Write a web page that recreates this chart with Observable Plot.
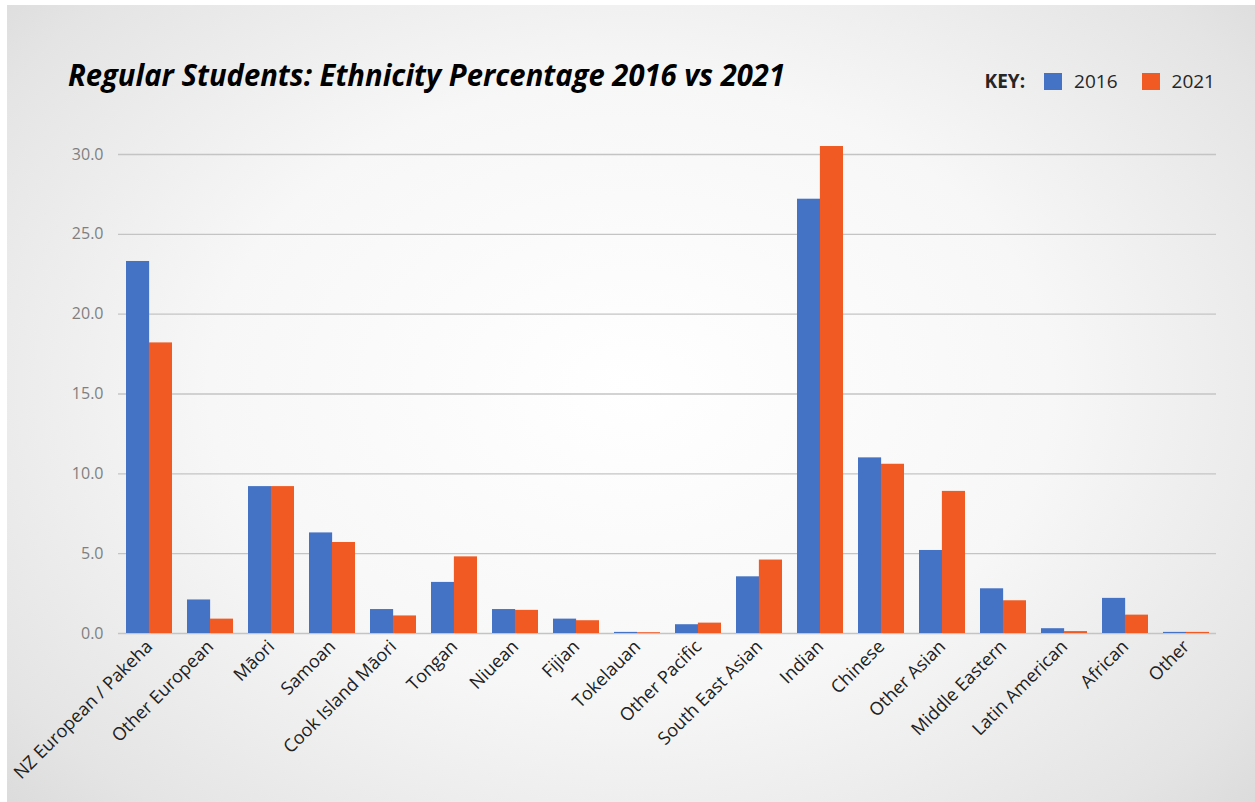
<!DOCTYPE html>
<html>
<head>
<meta charset="utf-8">
<script src="https://cdn.jsdelivr.net/npm/d3@7"></script>
<script src="https://cdn.jsdelivr.net/npm/@observablehq/plot@0.6"></script>
<style>
  html, body { margin: 0; padding: 0; background: #ffffff; width: 1255px; height: 802px; overflow: hidden; }
  #bg { position: absolute; left: 7px; top: 5px; width: 1248px; height: 797px;
        background: radial-gradient(ellipse 75% 85% at 50% 48%, #ffffff 0%, #f7f7f7 45%, #e4e4e4 80%, #d4d4d4 100%); }
  #page { position: absolute; left: 0; top: 0; width: 1255px; height: 802px; }
  #header { position: relative; width: 1255px; height: 130px; }
  #title { position: absolute; left: 0; top: 0; }
  #key { position: absolute; right: 40px; top: 68px; display: flex; align-items: center;
         font-family: "Open Sans", sans-serif; font-size: 19px; color: #262626; }
  #key .k { font-weight: 700; margin-right: 19px; }
  #key .sw { width: 18px; height: 17px; display: inline-block; margin-right: 12px; }
  #key .lab { margin-right: 24px; }
  #key .lab:last-child { margin-right: 0; }
  #chart svg { background: transparent !important; display: block; }
  #chart g[aria-label^="y-axis"] text { fill: #7f7f7f; font-size: 16px; font-family: "Open Sans", sans-serif; }
  #chart g[aria-label^="x-axis"] text { fill: #202020; font-size: 18px; font-family: "Open Sans", sans-serif; }
</style>
</head>
<body>
<div id="bg"></div>
<div id="page">
  <div id="header">
    <svg id="title" width="1255" height="130">
      <text x="68" y="86" textLength="717" lengthAdjust="spacingAndGlyphs"
        font-family="Open Sans" font-weight="700" font-style="italic" font-size="30" fill="#000">Regular Students: Ethnicity Percentage 2016 vs 2021</text>
    </svg>
    <div id="key"></div>
  </div>
  <div id="chart"></div>
</div>
<script>
const categories = ["NZ European / Pakeha","Other European","Māori","Samoan","Cook Island Māori","Tongan","Niuean","Fijian","Tokelauan","Other Pacific","South East Asian","Indian","Chinese","Other Asian","Middle Eastern","Latin American","African","Other"];
const years = ["2016", "2021"];
const values2016 = [23.3, 2.1, 9.2, 6.3, 1.5, 3.2, 1.5, 0.9, 0.07, 0.55, 3.55, 27.2, 11.0, 5.2, 2.8, 0.3, 2.2, 0.07];
const values2021 = [18.2, 0.9, 9.2, 5.7, 1.1, 4.8, 1.45, 0.8, 0.05, 0.65, 4.6, 30.5, 10.6, 8.9, 2.05, 0.12, 1.15, 0.07];
const yTicks = [0, 5, 10, 15, 20, 25, 30];
const colors = {"2016": "#4472C4", "2021": "#F15A22"};

// Key
const key = d3.select("#key");
key.append("span").attr("class", "k").text("KEY:");
years.forEach(y => {
  key.append("span").attr("class", "sw").style("background", colors[y]);
  key.append("span").attr("class", "lab").text(y);
});

const W = 1255, H = 672, mL = 118, mR = 39, mT = 24, mB = 169;
const pInner = 0.25, pOuter = 0.125;
const step = (W - mL - mR) / (categories.length - pInner + 2 * pOuter);
const half = step * (1 - pInner) / 2;

const d16 = categories.map((c, i) => ({cat: c, year: "2016", v: values2016[i]}));
const d21 = categories.map((c, i) => ({cat: c, year: "2021", v: values2021[i]}));

const chart = Plot.plot({
  width: W, height: H,
  marginLeft: mL, marginRight: mR, marginTop: mT, marginBottom: mB,
  style: {background: "transparent", overflow: "visible"},
  x: {domain: categories, paddingInner: pInner, paddingOuter: pOuter, tickRotate: -45, tickSize: 0, tickPadding: 10, label: null},
  y: {domain: [0, 30], ticks: yTicks, tickFormat: d3.format(".1f"), tickSize: 0, tickPadding: 15, label: null},
  marks: [
    Plot.ruleY(yTicks, {stroke: "#c4c4c4", strokeWidth: 1.4}),
    Plot.barY(d16, {x: "cat", y: "v", fill: colors["2016"], insetRight: half}),
    Plot.barY(d21, {x: "cat", y: "v", fill: colors["2021"], insetLeft: half})
  ]
});
document.getElementById("chart").appendChild(chart);
</script>
</body>
</html>
